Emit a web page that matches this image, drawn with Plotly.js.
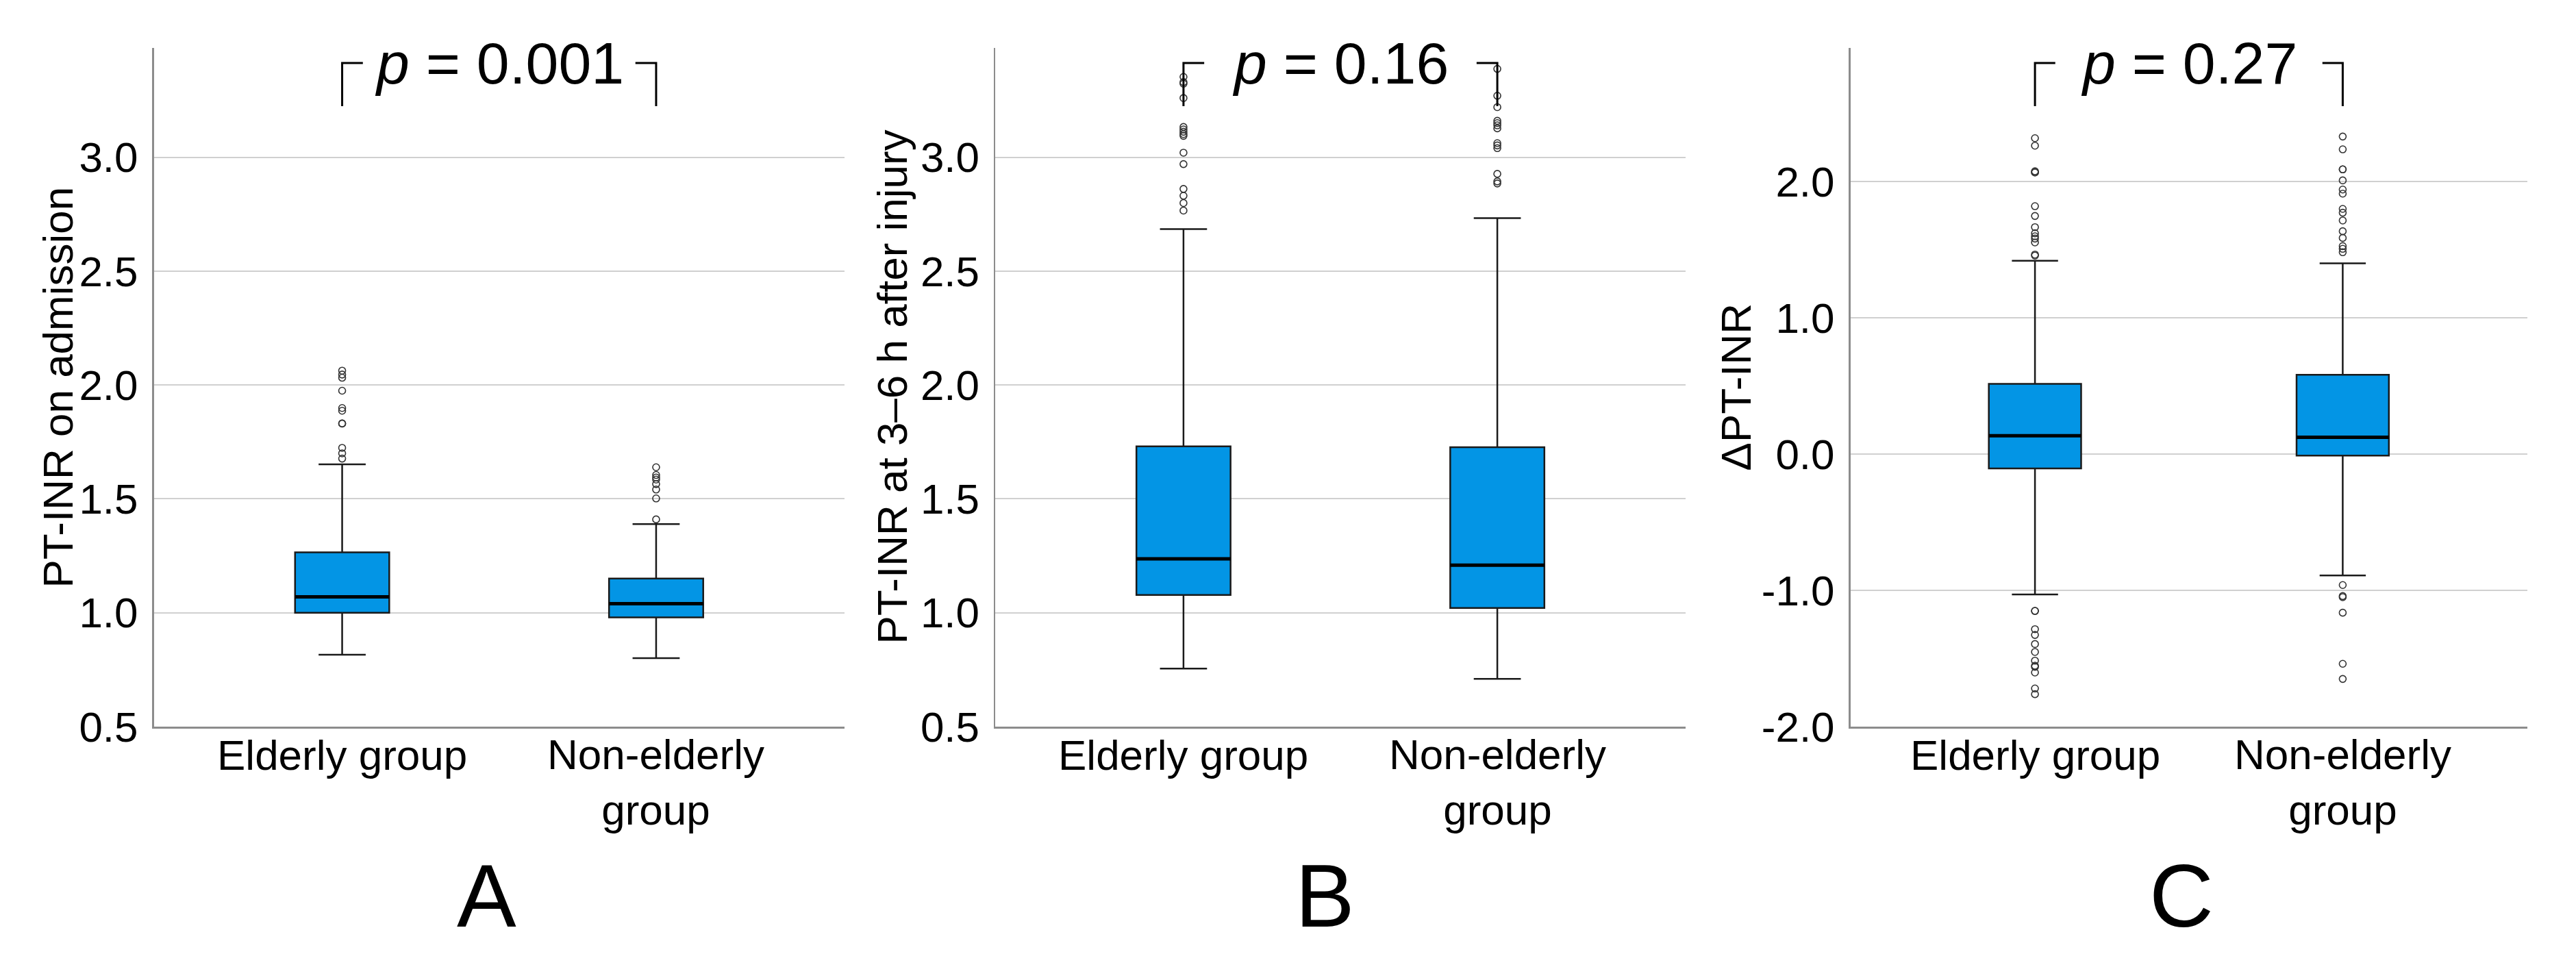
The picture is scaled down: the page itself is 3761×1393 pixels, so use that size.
<!DOCTYPE html>
<html><head><meta charset="utf-8">
<script src="https://cdn.plot.ly/plotly-3.0.1.min.js"></script>
<style>html,body{margin:0;padding:0;background:#fff;overflow:hidden;} #chart{width:3761px;height:1393px;}</style>
</head><body><div id="chart"></div>
<script>
// ---------- data ----------
const categories = ['Elderly group', 'Non-elderly<br>group'];
const panelLetters = ['A', 'B', 'C'];
const yTitles = ['PT-INR on admission', 'PT-INR at 3–6 h after injury', 'ΔPT-INR'];
const pValues = ['0.001', '0.16', '0.27'];

// Panel A: PT-INR on admission
const admQ1 = [1.000, 0.980];
const admMedian = [1.070, 1.040];
const admQ3 = [1.265, 1.150];
const admLower = [0.816, 0.801];
const admUpper = [1.652, 1.389];
const admOutElderly = [2.063, 2.046, 2.032, 1.975, 1.899, 1.887, 1.831, 1.831, 1.724, 1.700, 1.677];
const admOutNonElderly = [1.639, 1.605, 1.594, 1.585, 1.565, 1.541, 1.502, 1.410];

// Panel B: PT-INR at 3-6 h after injury
const lateQ1 = [1.078, 1.021];
const lateMedian = [1.237, 1.209];
const lateQ3 = [1.731, 1.727];
const lateLower = [0.755, 0.710];
const lateUpper = [2.685, 2.733];
const lateOutElderly = [3.353, 3.330, 3.323, 3.260, 3.133, 3.122, 3.112, 3.102, 3.094, 3.020, 2.970, 2.861, 2.831, 2.799, 2.766];
const lateOutNonElderly = [3.388, 3.270, 3.220, 3.160, 3.150, 3.140, 3.127, 3.062, 3.052, 3.040, 2.927, 2.894, 2.885];

// Panel C: delta PT-INR
const deltaQ1 = [-0.106, -0.011];
const deltaMedian = [0.134, 0.123];
const deltaQ3 = [0.515, 0.582];
const deltaLower = [-1.030, -0.891];
const deltaUpper = [1.419, 1.400];
const deltaOutElderly = [2.318, 2.263, 2.075, 2.067, 2.067, 1.819, 1.747, 1.665, 1.620, 1.598, 1.581, 1.553, 1.464, 1.456,
  -1.151, -1.151, -1.285, -1.327, -1.394, -1.452, -1.516, -1.553, -1.561, -1.603, -1.720, -1.762];
const deltaOutNonElderly = [2.330, 2.236, 2.089, 2.089, 2.008, 1.941, 1.911, 1.799, 1.771, 1.714, 1.635, 1.586, 1.526, 1.506, 1.481,
  -0.961, -1.042, -1.050, -1.164, -1.539, -1.650];

const yTickValsAB = [0.5, 1.0, 1.5, 2.0, 2.5, 3.0];
const yTickTextAB = ['0.5', '1.0', '1.5', '2.0', '2.5', '3.0'];
const yTickValsC = [-2, -1, 0, 1, 2];
const yTickTextC = ['-2.0', '-1.0', '0.0', '1.0', '2.0'];

// ---------- style / layout ----------
const W = 3761, H = 1393;
const FONT = 'Liberation Sans, Arial, Helvetica, sans-serif';
const BOX_FILL = '#0395E5';
const BOX_W = 0.3;
const PLOT_TOP = 70, PLOT_BOTTOM = 1061;
const xPix = [[224.5, 1233], [1453, 2461], [2701.5, 3690]];
const titleX = [84, 1302, 2534];
const letterX = [710, 1934, 3185];
const yRanges = [[0.5, 3.48], [0.5, 3.48], [-2, 2.98]];
const BRACKET_TOP = 92, BRACKET_BOT = 155, BRACKET_ARM = 0.066;
const CAT_FIRST_LINE_Y = 1102, CAT_LINE_STEP = 80.6;

const panels = [
  {q1: admQ1, med: admMedian, q3: admQ3, lo: admLower, hi: admUpper, out: [admOutElderly, admOutNonElderly], tv: yTickValsAB, tt: yTickTextAB},
  {q1: lateQ1, med: lateMedian, q3: lateQ3, lo: lateLower, hi: lateUpper, out: [lateOutElderly, lateOutNonElderly], tv: yTickValsAB, tt: yTickTextAB},
  {q1: deltaQ1, med: deltaMedian, q3: deltaQ3, lo: deltaLower, hi: deltaUpper, out: [deltaOutElderly, deltaOutNonElderly], tv: yTickValsC, tt: yTickTextC}
];

const px2x = p => p / W;
const px2y = p => 1 - p / H;
const catPos = categories.map((c, i) => i);

const traces = [];
const layout = {
  width: W, height: H,
  margin: {l: 0, r: 0, t: 0, b: 0},
  paper_bgcolor: '#fff', plot_bgcolor: '#fff',
  showlegend: false,
  font: {family: FONT, color: '#000', size: 62},
  annotations: [], shapes: []
};

panels.forEach((p, i) => {
  const s = i === 0 ? '' : String(i + 1);
  const xa = 'x' + s, ya = 'y' + s;
  traces.push({
    type: 'box', xaxis: xa, yaxis: ya,
    x: catPos, q1: p.q1, median: p.med, q3: p.q3, lowerfence: p.lo, upperfence: p.hi,
    width: BOX_W, whiskerwidth: 0.5, boxpoints: false,
    fillcolor: BOX_FILL, line: {color: '#1a1a1a', width: 2.5}, hoverinfo: 'skip'
  });
  // thicker median lines
  const mx = [], my = [];
  catPos.forEach((c, k) => { mx.push(c - BOX_W / 2, c + BOX_W / 2, null); my.push(p.med[k], p.med[k], null); });
  traces.push({type: 'scatter', mode: 'lines', xaxis: xa, yaxis: ya, x: mx, y: my,
    line: {color: '#000', width: 5}, hoverinfo: 'skip'});
  // outliers
  const ox = [], oy = [];
  catPos.forEach((c, k) => p.out[k].forEach(v => { ox.push(c); oy.push(v); }));
  traces.push({type: 'scatter', mode: 'markers', xaxis: xa, yaxis: ya, x: ox, y: oy,
    marker: {symbol: 'circle-open', size: 10, color: '#333', line: {width: 1.6}}, hoverinfo: 'skip'});

  layout['xaxis' + s] = {
    domain: [px2x(xPix[i][0]), px2x(xPix[i][1])], anchor: ya,
    range: [-0.6, 1.6], tickvals: catPos, ticktext: categories, showticklabels: false,
    showgrid: false, zeroline: false, showline: true, linecolor: '#8c8c8c', linewidth: 2.5,
    ticks: '', fixedrange: true
  };
  layout['yaxis' + s] = {
    domain: [px2y(PLOT_BOTTOM), px2y(PLOT_TOP)], anchor: xa,
    range: yRanges[i], tickvals: p.tv, ticktext: p.tt,
    showgrid: true, gridcolor: '#d0d0d0', gridwidth: 2, zeroline: false,
    showline: true, linecolor: '#8c8c8c', linewidth: 2.5,
    ticks: '', tickfont: {family: FONT, size: 62, color: '#000'}, ticklabelstandoff: 8, fixedrange: true
  };
  // category labels under the boxes
  categories.forEach((c, k) => {
    const nLines = c.split('<br>').length;
    const midY = CAT_FIRST_LINE_Y + (nLines - 1) * CAT_LINE_STEP / 2;
    layout.annotations.push({
      xref: xa, yref: 'paper', x: catPos[k], y: px2y(midY), xanchor: 'center', yanchor: 'middle',
      text: c, showarrow: false, font: {family: FONT, size: 62, color: '#000'}
    });
  });
  const yMid = (px2y(PLOT_BOTTOM) + px2y(PLOT_TOP)) / 2;
  layout.annotations.push({
    xref: 'paper', yref: 'paper', x: px2x(titleX[i]), y: yMid, xanchor: 'center', yanchor: 'middle',
    text: yTitles[i], textangle: -90, showarrow: false, font: {family: FONT, size: 62, color: '#000'}
  });
  layout.annotations.push({
    xref: xa, yref: 'paper', x: (catPos[0] + catPos[1]) / 2, y: px2y(92), xanchor: 'center', yanchor: 'middle',
    text: '<i>p</i> = ' + pValues[i], showarrow: false, font: {family: FONT, size: 86, color: '#000'}
  });
  layout.annotations.push({
    xref: 'paper', yref: 'paper', x: px2x(letterX[i]), y: px2y(1308), xanchor: 'center', yanchor: 'middle',
    text: panelLetters[i], showarrow: false, font: {family: FONT, size: 130, color: '#000'}
  });
  const yt = px2y(BRACKET_TOP), yb = px2y(BRACKET_BOT);
  const c0 = catPos[0], c1 = catPos[1];
  layout.shapes.push({type: 'path', xref: xa, yref: 'paper', layer: 'above',
    path: `M ${c0},${yb} L ${c0},${yt} L ${c0 + BRACKET_ARM},${yt}`, line: {color: '#000', width: 3}});
  layout.shapes.push({type: 'path', xref: xa, yref: 'paper', layer: 'above',
    path: `M ${c1 - BRACKET_ARM},${yt} L ${c1},${yt} L ${c1},${yb}`, line: {color: '#000', width: 3}});
});

Plotly.newPlot('chart', traces, layout, {staticPlot: true, displayModeBar: false});
</script></body></html>
